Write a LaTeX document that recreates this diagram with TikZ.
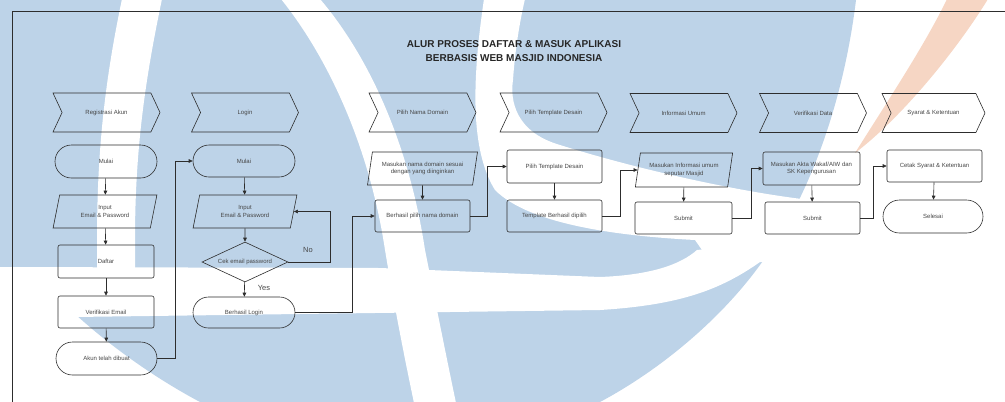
\documentclass[tikz,border=0pt]{standalone}
\usepackage{fontspec}
\setmainfont{Liberation Sans}
\usetikzlibrary{shapes.geometric,shapes.symbols,shapes.misc,arrows.meta,calc}
\definecolor{wmblue}{RGB}{189,211,232}
\definecolor{wmorange}{RGB}{246,214,196}
\definecolor{ink}{RGB}{45,45,45}
\definecolor{txt}{RGB}{70,70,70}
\begin{document}
\begin{tikzpicture}[x=1pt,y=-1pt,
  every node/.style={font=\fontsize{6}{7.4}\selectfont, text=txt, align=center, inner sep=0pt},
  hdr/.style={shape=signal, signal to=east, signal from=west, signal pointer angle=130, draw=ink, line width=0.6pt, minimum width=107pt, minimum height=39pt},
  term/.style={rounded rectangle, draw=ink, line width=0.6pt, minimum height=33pt},
  io/.style={trapezium, trapezium left angle=73, trapezium right angle=107, trapezium stretches=true, draw=ink, line width=0.6pt, minimum height=33pt},
  proc/.style={rectangle, rounded corners=2pt, draw=ink, line width=0.6pt, minimum height=32pt},
  dec/.style={diamond, shape aspect=2.15, draw=ink, line width=0.6pt, minimum width=86pt, minimum height=40pt},
  arr/.style={draw=ink, line width=0.6pt, -{Triangle[length=4pt,width=3.6pt]}},
  lbl/.style={font=\fontsize{7.5}{9}\selectfont, text=txt}
]
\useasboundingbox (0,0) rectangle (1005,402);
% ---------- watermark ----------
\fill[wmblue] (0,0) -- (856,0) .. controls (845,90) and (815,190) .. (760,265)
  .. controls (720,320) and (660,370) .. (600,402) -- (200,402)
  .. controls (140,370) and (90,330) .. (55,295) .. controls (35,280) and (15,272) .. (0,267) -- cycle;
\fill[white] (122,-1) -- (162,-1) .. controls (145,80) and (135,150) .. (135,240) -- (135,300) -- (97,300) -- (97,240) .. controls (97,150) and (105,80) .. (122,-1) -- cycle;
\fill[white] (-1,267) -- (380,268) -- (600,277) .. controls (650,275) and (680,265) .. (697,250) -- (790,240) -- (790,262) -- (760,262) .. controls (720,290) and (680,305) .. (600,310) -- (-1,318) -- cycle;
\fill[white] (281,-1) .. controls (330,60) and (370,150) .. (385,250) .. controls (395,310) and (405,360) .. (414,403)
  -- (456,403) .. controls (447,360) and (437,310) .. (425,250) .. controls (410,150) and (372,60) .. (320,-1) -- cycle;
\fill[white] (484,-1) .. controls (472,80) and (470,150) .. (495,190) .. controls (530,225) and (620,236) .. (695,240)
  -- (702,250) -- (815,252) -- (825,195) -- (810,200) .. controls (740,192) and (640,170) .. (560,145)
  .. controls (515,132) and (510,100) .. (513,80) .. controls (515,50) and (520,20) .. (525,-1) -- cycle;
\fill[wmorange] (855,153) .. controls (885,105) and (925,45) .. (947,-1) -- (988,-1) .. controls (960,45) and (905,115) .. (855,153) -- cycle;
% ---------- frame ----------
\draw[ink, line width=0.8pt] (12,403) -- (12,11) -- (1006,11);
% ---------- title ----------
\node[font=\bfseries\fontsize{10}{14}\selectfont, text=black!85] (title) at (514,51) {ALUR PROSES DAFTAR \& MASUK APLIKASI\\BERBASIS WEB MASJID INDONESIA};
% ---------- headers ----------
\node[hdr] (h1) at (106.5,112.5) {Registrasi Akun};
\node[hdr] (h2) at (245,112.5) {Login};
\node[hdr] (h3) at (422.5,112.5) {Pilih Nama Domain};
\node[hdr] (h4) at (553.5,112.5) {Pilih Template Desain};
\node[hdr] (h5) at (683.5,113) {Informasi Umum};
\node[hdr] (h6) at (813,113) {Verifikasi Data};
\node[hdr, minimum width=103pt] (h7) at (933.5,113) {Syarat \& Ketentuan};
% ---------- column 1 ----------
\node[term, minimum width=102pt] (m1) at (106,161.5) {Mulai};
\node[io, minimum width=104pt] (i1) at (105,211.5) {Input\\Email \& Password};
\node[proc, minimum width=96pt, minimum height=33pt] (d1) at (106,261.5) {Daftar};
\node[proc, minimum width=96pt] (v1) at (106,312) {Verifikasi Email};
\node[term, minimum width=101pt] (a1) at (106.5,358.5) {Akun telah dibuat};
% ---------- column 2 ----------
\node[term, minimum width=102pt, minimum height=32pt] (m2) at (244,161) {Mulai};
\node[io, minimum width=104pt] (i2) at (245,211.5) {Input\\Email \& Password};
\node[dec] (c2) at (245,262) {Cek email password};
\node[term, minimum width=102pt, minimum height=31pt] (b2) at (244,312.5) {Berhasil Login};
% ---------- column 3 ----------
\node[io, minimum width=111pt] (p3) at (422.5,168.5) {Masukan nama domain sesuai\\dengan yang diinginkan};
\node[proc, minimum width=95pt] (r3) at (422.5,216) {Berhasil pilih nama domain};
% ---------- column 4 ----------
\node[proc, minimum width=95pt, minimum height=33pt] (r4a) at (554.5,166.5) {Pilih Template Desain};
\node[proc, minimum width=95pt] (r4b) at (554.5,216) {Template Berhasil dipilih};
% ---------- column 5 ----------
\node[io, minimum width=98pt, minimum height=34pt] (p5) at (684,170) {Masukan Informasi umum\\seputar Masjid};
\node[proc, minimum width=97pt] (r5) at (683.5,218) {Submit};
% ---------- column 6 ----------
\node[proc, minimum width=97pt, minimum height=33pt] (r6a) at (811.5,168.5) {Masukan Akta Wakaf/AIW dan\\SK Kepengurusan};
\node[proc, minimum width=95pt] (r6b) at (812.5,218) {Submit};
% ---------- column 7 ----------
\node[proc, minimum width=95pt] (r7) at (934.5,166) {Cetak Syarat \& Ketentuan};
\node[term, minimum width=100pt] (t7) at (933,216.5) {Selesai};
% ---------- vertical arrows ----------
\draw[arr] (m1) -- (i1);
\draw[arr] (i1) -- (d1);
\draw[arr] (d1) -- (v1);
\draw[arr] (v1) -- (a1);
\draw[arr] (m2) -- (i2);
\draw[arr] (i2) -- (c2);
\draw[arr] (c2) -- (b2);
\draw[arr] (p3) -- (r3);
\draw[arr] (r4a) -- (r4b);
\draw[arr] (p5) -- (r5);
\draw[arr] (r6a) -- (r6b);
\draw[arr] (r7) -- (t7);
% ---------- elbow connectors ----------
\draw[arr] (a1.east) -- ++(18,0) |- (m2.west);
\draw[arr] (c2.east) -- ++(42,0) |- (i2.east);
\draw[arr] (b2.east) -- ++(57,0) |- (r3.west);
\draw[arr] (r3.east) -- ++(17,0) |- (r4a.west);
\draw[arr] (r4b.east) -- ++(18,0) |- (p5.west);
\draw[arr] (r5.east) -- ++(19,0) |- (r6a.west);
\draw[arr] (r6b.east) -- ++(13,0) |- (r7.west);
% ---------- labels ----------
\node[lbl] (no) at (308,250) {No};
\node[lbl] (yes) at (264,288) {Yes};
\end{tikzpicture}
\end{document}
